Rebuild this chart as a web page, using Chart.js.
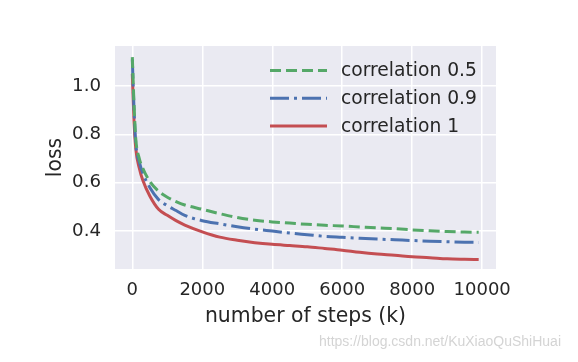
<!DOCTYPE html>
<html>
<head>
<meta charset="utf-8">
<script src="https://cdn.jsdelivr.net/npm/chart.js@4/dist/chart.umd.min.js"></script>
<style>
  html, body { margin: 0; padding: 0; background: #ffffff; }
  #wrap { width: 578px; height: 362px; position: relative; }
</style>
</head>
<body>
<div id="wrap"><canvas id="chart" width="578" height="362"></canvas></div>
<script>
// training steps (k) where the loss was logged
const steps = [0, 50, 100, 200, 300, 500, 750, 1000, 1250, 1500, 2000, 2500, 3000, 3500,
    4000, 4500, 5000, 5500, 6000, 6500, 7000, 7500, 8000, 8500, 9000, 9500, 9900];

const loss05 = [1.12, 0.92, 0.78, 0.70, 0.66, 0.605, 0.565, 0.54, 0.522, 0.508, 0.49, 0.472, 0.456, 0.445,
    0.438, 0.433, 0.428, 0.424, 0.421, 0.417, 0.413, 0.410, 0.405, 0.401, 0.398, 0.396, 0.395];
const loss09 = [1.11, 0.90, 0.76, 0.685, 0.64, 0.58, 0.53, 0.505, 0.485, 0.465, 0.443, 0.43, 0.418, 0.408,
    0.400, 0.392, 0.385, 0.378, 0.374, 0.370, 0.367, 0.364, 0.361, 0.358, 0.356, 0.354, 0.353];
const loss1 = [1.05, 0.85, 0.74, 0.66, 0.61, 0.545, 0.49, 0.465, 0.443, 0.425, 0.397, 0.375, 0.362, 0.352,
    0.345, 0.340, 0.335, 0.328, 0.321, 0.312, 0.305, 0.300, 0.294, 0.290, 0.285, 0.283, 0.282];

const seriesLabels = ['correlation 0.5', 'correlation 0.9', 'correlation 1'];
const xTicks = [0, 2000, 4000, 6000, 8000, 10000];
const yTicks = [0.4, 0.6, 0.8, 1.0];

const textColor = '#262626';
const fontFamily = '"DejaVu Sans", sans-serif';

function toPoints(values) {
    return values.map((v, i) => ({ x: steps[i], y: v }));
}

// grey plot background like seaborn darkgrid
const plotBackground = {
    id: 'plotBackground',
    beforeDraw(chart) {
        const { ctx, chartArea } = chart;
        ctx.save();
        ctx.fillStyle = '#EAEAF2';
        ctx.fillRect(chartArea.left, chartArea.top, chartArea.right - chartArea.left, chartArea.bottom - chartArea.top);
        ctx.restore();
    }
};

// legend drawn inside the plot, upper right
const innerLegend = {
    id: 'innerLegend',
    afterDatasetsDraw(chart) {
        const { ctx } = chart;
        const lineX0 = 270, lineX1 = 327, textX = 341;
        const rowY = [70.5, 98.3, 126];
        ctx.save();
        chart.data.datasets.forEach((ds, i) => {
            ctx.beginPath();
            ctx.setLineDash(ds.borderDash || []);
            ctx.lineWidth = ds.borderWidth;
            ctx.strokeStyle = ds.borderColor;
            ctx.lineCap = 'butt';
            ctx.moveTo(lineX0, rowY[i]);
            ctx.lineTo(lineX1, rowY[i]);
            ctx.stroke();
            ctx.setLineDash([]);
            ctx.fillStyle = textColor;
            ctx.font = '18.7px ' + fontFamily;
            ctx.textBaseline = 'middle';
            ctx.textAlign = 'left';
            ctx.fillText(ds.label, textX, rowY[i] + 1);
        });
        ctx.restore();
    }
};

const watermark = {
    id: 'watermark',
    afterDraw(chart) {
        const { ctx } = chart;
        ctx.save();
        ctx.fillStyle = '#d4d4d4';
        ctx.font = '14px "Liberation Sans", sans-serif';
        ctx.textBaseline = 'middle';
        ctx.textAlign = 'right';
        ctx.fillText('https://blog.csdn.net/KuXiaoQuShiHuai', 561, 342);
        ctx.restore();
    }
};

const ctx = document.getElementById('chart').getContext('2d');
const chart = new Chart(ctx, {
    type: 'line',
    data: {
        datasets: [
            {
                label: seriesLabels[0],
                data: toPoints(loss05),
                borderColor: '#55A868',
                borderWidth: 3,
                borderDash: [11, 5]
            },
            {
                label: seriesLabels[1],
                data: toPoints(loss09),
                borderColor: '#4C72B0',
                borderWidth: 3,
                borderDash: [19, 5, 3, 5]
            },
            {
                label: seriesLabels[2],
                data: toPoints(loss1),
                borderColor: '#C44E52',
                borderWidth: 3,
                borderDash: []
            }
        ]
    },
    options: {
        responsive: false,
        animation: false,
        devicePixelRatio: 1,
        elements: {
            point: { radius: 0 },
            line: { cubicInterpolationMode: 'monotone', fill: false }
        },
        layout: { padding: { left: 0, top: 46, right: 82, bottom: 0 } },
        plugins: {
            legend: { display: false },
            tooltip: { enabled: false }
        },
        scales: {
            x: {
                type: 'linear',
                min: -495,
                max: 10395,
                afterBuildTicks: scale => { scale.ticks = xTicks.map(v => ({ value: v })); },
                afterFit: scale => { scale.height = 93; },
                grid: { color: '#ffffff', lineWidth: 1.5, drawTicks: false },
                border: { display: false },
                ticks: {
                    padding: 11,
                    color: textColor,
                    font: { family: fontFamily, size: 18 },
                    maxRotation: 0,
                    callback: v => String(v)
                },
                title: {
                    display: true,
                    text: 'number of steps (k)',
                    color: textColor,
                    font: { family: fontFamily, size: 20.4 },
                    padding: { top: 0, bottom: 33 }
                }
            },
            y: {
                type: 'linear',
                min: 0.243,
                max: 1.166,
                afterBuildTicks: scale => { scale.ticks = yTicks.map(v => ({ value: v })); },
                afterFit: scale => { scale.width = 115; },
                grid: { color: '#ffffff', lineWidth: 1.5, drawTicks: false },
                border: { display: false },
                ticks: {
                    padding: 14,
                    color: textColor,
                    font: { family: fontFamily, size: 18.2 },
                    callback: v => v.toFixed(1)
                },
                title: {
                    display: true,
                    text: 'loss',
                    color: textColor,
                    font: { family: fontFamily, size: 20.4 },
                    padding: { top: 43, bottom: 0 }
                }
            }
        }
    },
    plugins: [plotBackground, innerLegend, watermark]
});
</script>
</body>
</html>
